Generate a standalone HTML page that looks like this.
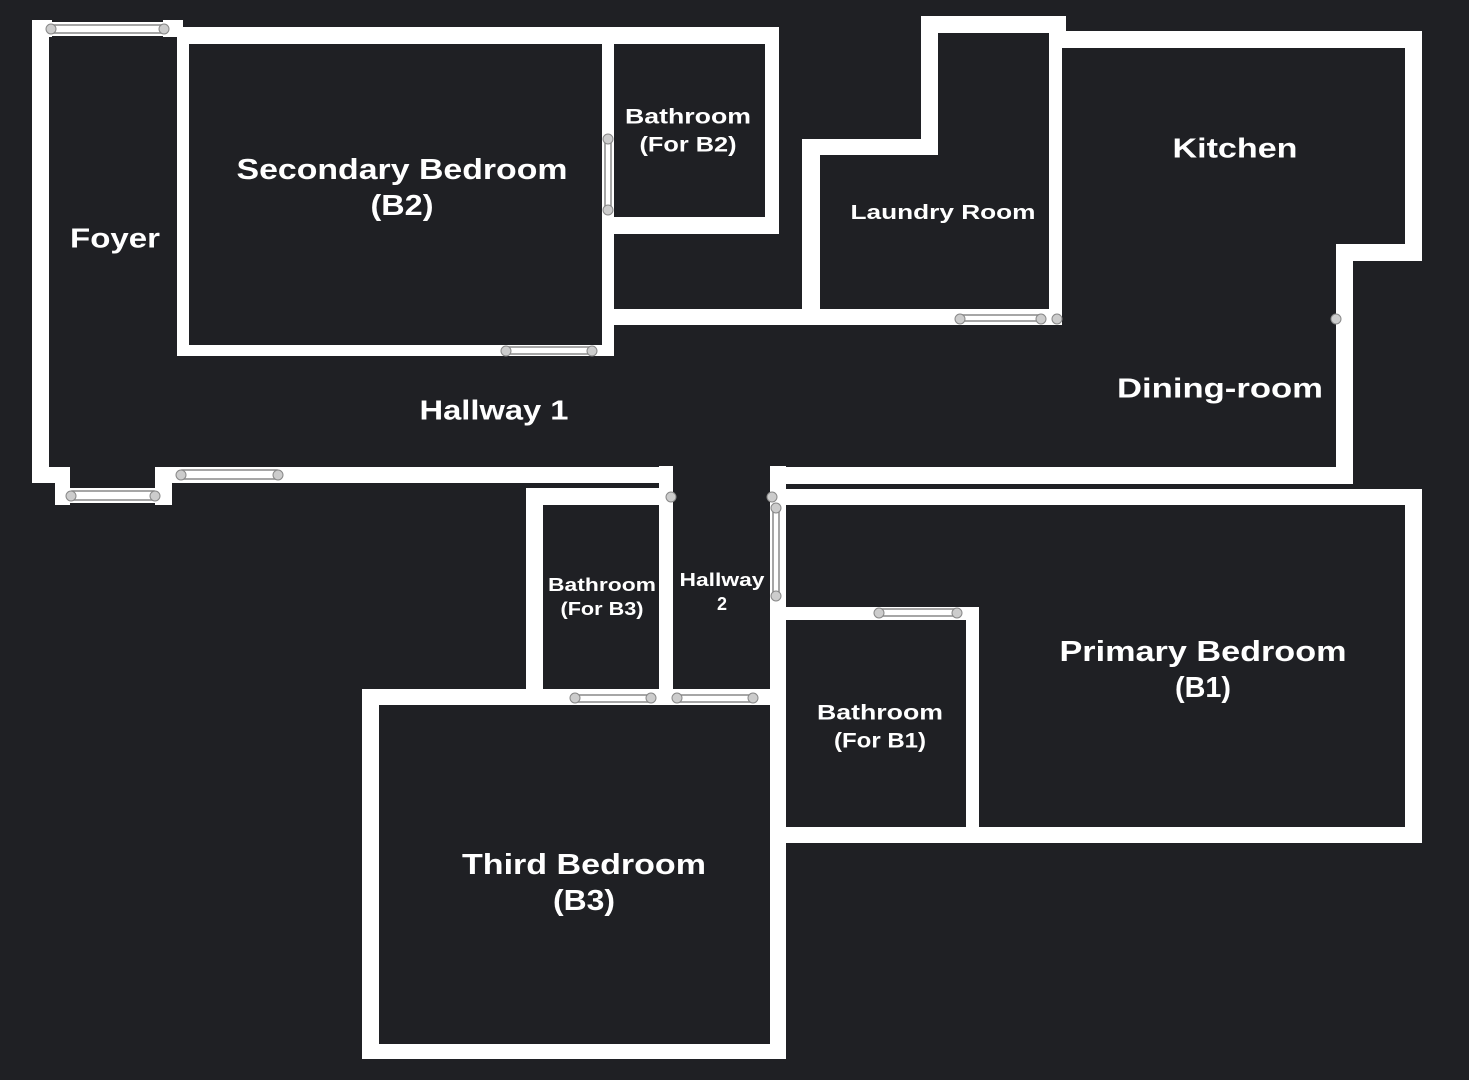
<!DOCTYPE html>
<html><head><meta charset="utf-8"><style>
html,body{margin:0;padding:0;background:#1f2024;}
svg{display:block}
text{font-family:"Liberation Sans",sans-serif;font-weight:bold;fill:#fff;text-anchor:middle;dominant-baseline:central}
</style></head><body>
<svg width="1469" height="1080" viewBox="0 0 1469 1080" xmlns="http://www.w3.org/2000/svg">
<rect width="1469" height="1080" fill="#1f2024"/>
<g fill="#fff">
<!-- Foyer / hallway 1 -->
<rect x="32" y="20" width="17" height="463"/>
<rect x="32" y="20" width="20" height="17"/>
<rect x="50" y="22" width="115" height="14"/>
<rect x="163" y="20" width="20" height="17"/>
<rect x="32" y="467" width="38" height="16"/>
<rect x="55" y="467" width="15" height="38"/>
<rect x="70" y="488" width="86" height="15"/>
<rect x="155" y="467" width="17" height="38"/>
<rect x="155" y="467" width="518" height="16"/>
<!-- B2 -->
<rect x="177" y="27" width="602" height="17"/>
<rect x="177" y="27" width="12" height="329"/>
<rect x="177" y="345" width="437" height="11"/>
<rect x="602" y="27" width="12" height="329"/>
<rect x="765" y="27" width="14" height="207"/>
<rect x="602" y="217" width="177" height="17"/>
<rect x="614" y="309" width="448" height="16"/>
<!-- Laundry -->
<rect x="802" y="139" width="18" height="186"/>
<rect x="802" y="139" width="136" height="16"/>
<rect x="921" y="16" width="17" height="139"/>
<rect x="921" y="16" width="145" height="17"/>
<rect x="1049" y="16" width="13" height="309"/>
<!-- Kitchen / dining -->
<rect x="1062" y="31" width="360" height="17"/>
<rect x="1405" y="31" width="17" height="230"/>
<rect x="1336" y="244" width="86" height="17"/>
<rect x="1336" y="244" width="17" height="240"/>
<rect x="770" y="467" width="583" height="17"/>
<!-- Primary -->
<rect x="786" y="489" width="636" height="16"/>
<rect x="1405" y="489" width="17" height="354"/>
<rect x="770" y="827" width="652" height="16"/>
<rect x="966" y="607" width="13" height="236"/>
<rect x="770" y="607" width="209" height="13"/>
<!-- Hallway 2 / B3 -->
<rect x="659" y="466" width="14" height="239"/>
<rect x="526" y="488" width="147" height="17"/>
<rect x="526" y="488" width="17" height="217"/>
<rect x="362" y="689" width="424" height="16"/>
<rect x="362" y="689" width="17" height="370"/>
<rect x="362" y="1044" width="424" height="15"/>
<rect x="770" y="466" width="16" height="593"/>
</g>
<!-- windows -->
<g stroke="#888" stroke-width="1.5" fill="#fff">
<rect x="52" y="25" width="111" height="8"/>
<rect x="72" y="491" width="82" height="9"/>
<rect x="182" y="470" width="95" height="9"/>
<rect x="507" y="347" width="85" height="7"/>
<rect x="605" y="140" width="6" height="70"/>
<rect x="961" y="315" width="80" height="6"/>
<rect x="773" y="508" width="6" height="88"/>
<rect x="879" y="609" width="78" height="7"/>
<rect x="575" y="695" width="76" height="7"/>
<rect x="677" y="695" width="76" height="7"/>
</g>
<g fill="#ccc" stroke="#888" stroke-width="1">
<circle cx="51" cy="29" r="5"/><circle cx="164" cy="29" r="5"/>
<circle cx="71" cy="496" r="5"/><circle cx="155" cy="496" r="5"/>
<circle cx="181" cy="475" r="5"/><circle cx="278" cy="475" r="5"/>
<circle cx="506" cy="351" r="5"/><circle cx="592" cy="351" r="5"/>
<circle cx="608" cy="139" r="5"/><circle cx="608" cy="210" r="5"/>
<circle cx="960" cy="319" r="5"/><circle cx="1041" cy="319" r="5"/><circle cx="1057" cy="319" r="5"/>
<circle cx="1336" cy="319" r="5"/>
<circle cx="671" cy="497" r="5"/><circle cx="772" cy="497" r="5"/>
<circle cx="776" cy="508" r="5"/><circle cx="776" cy="596" r="5"/>
<circle cx="879" cy="613" r="5"/><circle cx="957" cy="613" r="5"/>
<circle cx="575" cy="698" r="5"/><circle cx="651" cy="698" r="5"/>
<circle cx="677" cy="698" r="5"/><circle cx="753" cy="698" r="5"/>
</g>
<!-- labels -->
<text x="402" y="170" font-size="29" textLength="331" lengthAdjust="spacingAndGlyphs">Secondary Bedroom</text>
<text x="402" y="206" font-size="29" textLength="63" lengthAdjust="spacingAndGlyphs">(B2)</text>
<text x="115" y="238" font-size="28" textLength="90" lengthAdjust="spacingAndGlyphs">Foyer</text>
<text x="688" y="117" font-size="21" textLength="126" lengthAdjust="spacingAndGlyphs">Bathroom</text>
<text x="688" y="145" font-size="21" textLength="97" lengthAdjust="spacingAndGlyphs">(For B2)</text>
<text x="943" y="213" font-size="20" textLength="185" lengthAdjust="spacingAndGlyphs">Laundry Room</text>
<text x="1235" y="148" font-size="28" textLength="125" lengthAdjust="spacingAndGlyphs">Kitchen</text>
<text x="1220" y="388" font-size="28" textLength="206" lengthAdjust="spacingAndGlyphs">Dining-room</text>
<text x="494" y="410" font-size="28" textLength="149" lengthAdjust="spacingAndGlyphs">Hallway 1</text>
<text x="602" y="585" font-size="18" textLength="108" lengthAdjust="spacingAndGlyphs">Bathroom</text>
<text x="602" y="609" font-size="18" textLength="83" lengthAdjust="spacingAndGlyphs">(For B3)</text>
<text x="722" y="580" font-size="18" textLength="85" lengthAdjust="spacingAndGlyphs">Hallway</text>
<text x="722" y="604" font-size="18">2</text>
<text x="880" y="713" font-size="21" textLength="126" lengthAdjust="spacingAndGlyphs">Bathroom</text>
<text x="880" y="741" font-size="21" textLength="92" lengthAdjust="spacingAndGlyphs">(For B1)</text>
<text x="1203" y="652" font-size="29" textLength="287" lengthAdjust="spacingAndGlyphs">Primary Bedroom</text>
<text x="1203" y="688" font-size="29" textLength="56" lengthAdjust="spacingAndGlyphs">(B1)</text>
<text x="584" y="865" font-size="29" textLength="244" lengthAdjust="spacingAndGlyphs">Third Bedroom</text>
<text x="584" y="901" font-size="29" textLength="62" lengthAdjust="spacingAndGlyphs">(B3)</text>
</svg>
</body></html>
